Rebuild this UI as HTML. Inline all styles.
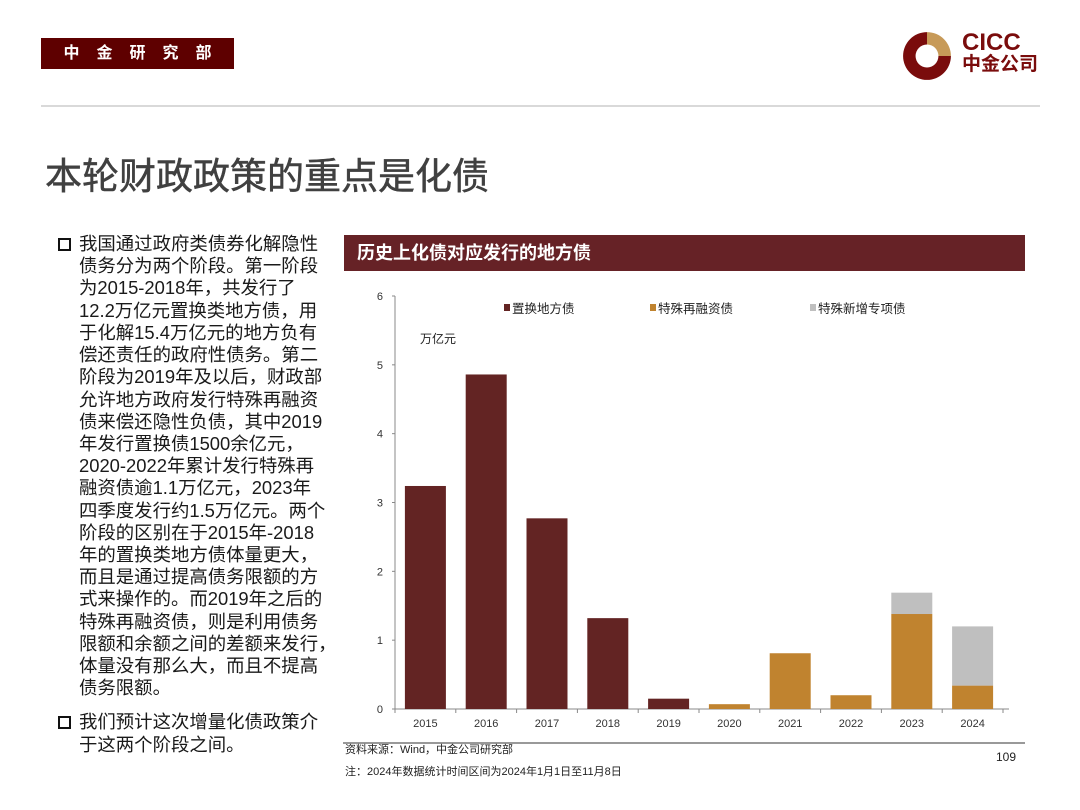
<!DOCTYPE html>
<html><head><meta charset="utf-8"><style>
body{margin:0;width:1080px;height:810px;background:#fff;position:relative;overflow:hidden;font-family:"Liberation Sans","Noto Sans CJK SC",sans-serif}
.abs{position:absolute}
.tl{position:absolute;left:79px;font-size:18.4px;color:#1a1a1a;white-space:nowrap;line-height:22px}
</style></head><body>
<div class="abs" style="left:41px;top:38px;width:193px;height:31px;background:#5E0000;color:#fff;font-size:16px;font-weight:bold;line-height:31px;text-align:center;letter-spacing:17px;text-indent:17px">中金研究部</div>
<svg class="abs" style="left:901px;top:30px" width="52" height="52" viewBox="0 0 50 50">
<path d="M25 2 A23 23 0 1 0 48 25 L36 25 A11 11 0 1 1 25 14 Z" fill="#7A0C0C"/>
<path d="M25 2 A23 23 0 0 1 48 25 L36 25 A11 11 0 0 0 25 14 Z" fill="#C79A58"/>
</svg>
<div class="abs" style="left:962px;top:32px;color:#7A0C0C;font-weight:bold;line-height:22px">
<div style="font-size:24px">CICC</div><div style="font-size:19px">中金公司</div></div>
<div class="abs" style="left:41px;top:105px;width:999px;height:2px;background:#d9d9d9"></div>
<div class="abs" style="left:45px;top:156px;font-size:37px;color:#404040;line-height:42px;-webkit-text-stroke:0.5px #404040">本轮财政政策的重点是化债</div>

<div>
<div class="abs" style="left:58px;top:238px;width:9px;height:9px;border:2px solid #111"></div>
<div class="tl" style="top:233px">我国通过政府类债券化解隐性</div>
<div class="tl" style="top:255px">债务分为两个阶段。第一阶段</div>
<div class="tl" style="top:277px">为2015-2018年，共发行了</div>
<div class="tl" style="top:300px">12.2万亿元置换类地方债，用</div>
<div class="tl" style="top:322px">于化解15.4万亿元的地方负有</div>
<div class="tl" style="top:344px">偿还责任的政府性债务。第二</div>
<div class="tl" style="top:366px">阶段为2019年及以后，财政部</div>
<div class="tl" style="top:389px">允许地方政府发行特殊再融资</div>
<div class="tl" style="top:411px">债来偿还隐性负债，其中2019</div>
<div class="tl" style="top:433px">年发行置换债1500余亿元，</div>
<div class="tl" style="top:455px">2020-2022年累计发行特殊再</div>
<div class="tl" style="top:477px">融资债逾1.1万亿元，2023年</div>
<div class="tl" style="top:500px">四季度发行约1.5万亿元。两个</div>
<div class="tl" style="top:522px">阶段的区别在于2015年-2018</div>
<div class="tl" style="top:544px">年的置换类地方债体量更大，</div>
<div class="tl" style="top:566px">而且是通过提高债务限额的方</div>
<div class="tl" style="top:588px">式来操作的。而2019年之后的</div>
<div class="tl" style="top:611px">特殊再融资债，则是利用债务</div>
<div class="tl" style="top:633px">限额和余额之间的差额来发行，</div>
<div class="tl" style="top:655px">体量没有那么大，而且不提高</div>
<div class="tl" style="top:677px">债务限额。</div>
<div class="abs" style="left:58px;top:716px;width:9px;height:9px;border:2px solid #111"></div>
<div class="tl" style="top:711px">我们预计这次增量化债政策介</div>
<div class="tl" style="top:734px">于这两个阶段之间。</div>
</div>

<div class="abs" style="left:344px;top:235px;width:681px;height:36px;background:#662226;color:#fff;font-size:18px;font-weight:bold;line-height:36px;text-indent:13px">历史上化债对应发行的地方债</div>

<svg class="abs" style="left:0;top:0" width="1080" height="810" id="chart"></svg>

<div class="abs" style="left:343px;top:742px;width:682px;height:2px;background:#999"></div>
<div class="abs" style="left:345px;top:743px;font-size:11px;color:#222;line-height:14px">资料来源：Wind，中金公司研究部</div>
<div class="abs" style="left:345px;top:765px;font-size:11px;color:#222;line-height:14px">注：2024年数据统计时间区间为2024年1月1日至11月8日</div>
<div class="abs" style="left:996px;top:750px;font-size:12px;color:#222">109</div>

<script>
const categories=["2015","2016","2017","2018","2019","2020","2021","2022","2023","2024"];
const replaceBonds=[3.24,4.86,2.77,1.32,0.15,0,0,0,0,0];
const refinanceBonds=[0,0,0,0,0,0.07,0.81,0.20,1.38,0.34];
const specialNewBonds=[0,0,0,0,0,0,0,0,0.31,0.86];
const yTicks=[0,1,2,3,4,5,6];
const seriesNames=["置换地方债","特殊再融资债","特殊新增专项债"];
const colors=["#632423","#C0832F","#BFBFBF"];
const NS="http://www.w3.org/2000/svg";
const svg=document.getElementById('chart');
const x0=395,x1=1003,y0=709,yTop=296,ymax=6;
const bw=(x1-x0)/categories.length;
function y(v){return y0-(v/ymax)*(y0-yTop);}
function xc(i){return x0+bw*(i+0.5);}
function mk(tag,a){const e=document.createElementNS(NS,tag);for(const k in a)e.setAttribute(k,a[k]);svg.appendChild(e);return e;}
let ax=mk('line',{x1:x0,y1:yTop,x2:x0,y2:y0,stroke:'#888','stroke-width':1});


let bx=mk('line',{x1:x0,y1:y0,x2:x1+6,y2:y0,stroke:'#888','stroke-width':1});


yTicks.forEach(t=>{
 mk('line',{x1:x0-3,y1:y(t),x2:x0,y2:y(t),stroke:'#888'});
 const tx=mk('text',{x:x0-12,y:y(t)+4,'font-size':11,fill:'#333','text-anchor':'end'});
 tx.textContent=t;
 
 
});
for(let i=0;i<=categories.length;i++)mk('line',{x1:x0+bw*i,y1:y0,x2:x0+bw*i,y2:y0+4,stroke:'#888'});
const series=[replaceBonds,refinanceBonds,specialNewBonds];
categories.forEach((c,i)=>{
 let base=0;
 series.forEach((s,k)=>{
  const v=s[i]; if(v<=0)return;
  const r=mk('rect',{x:xc(i)-20.5,y:y(base+v),width:41,height:y(base)-y(base+v),fill:colors[k]});
  
  
  base+=v;
 });
 const t=mk('text',{x:xc(i),y:y0+18,'font-size':11,fill:'#333','text-anchor':'middle'});
 t.textContent=c;
 
 
});
const lx=[512,658,818];
seriesNames.forEach((n,k)=>{
 mk('rect',{x:lx[k]-8,y:304,width:6,height:7,fill:colors[k]});
 const t=mk('text',{x:lx[k],y:313,'font-size':12.5,fill:'#222'});
 t.textContent=n;
 
 
});
const u=mk('text',{x:420,y:343,'font-size':12,fill:'#222'});
u.textContent='万亿元';


</script>
</body></html>
